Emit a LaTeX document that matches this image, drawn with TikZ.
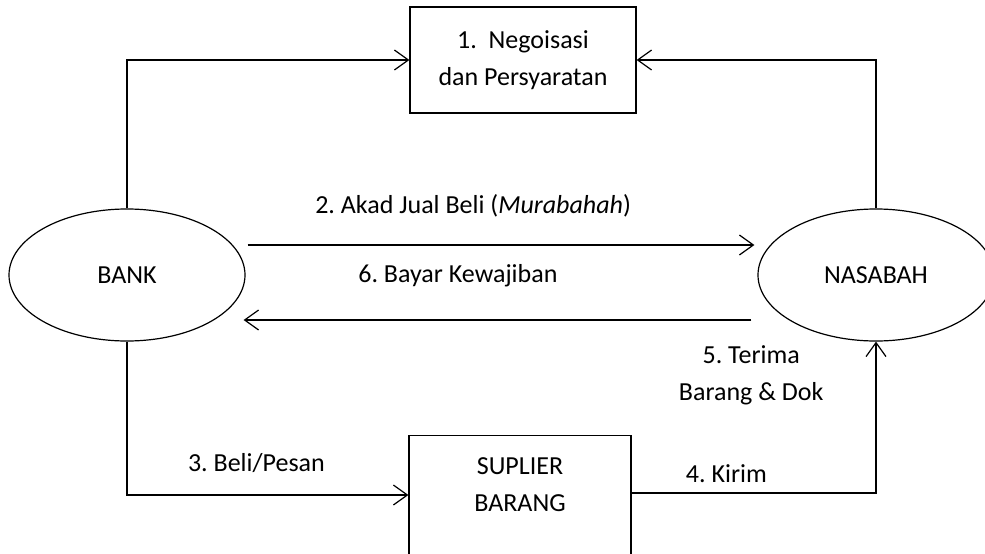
\documentclass[tikz,border=0pt]{standalone}
\usepackage{fontspec}
\setmainfont{Carlito}
\usetikzlibrary{arrows.meta,shapes.geometric,positioning}
\frenchspacing

\begin{document}
\begin{tikzpicture}[x=1pt,y=-1pt,line width=1.2pt,
  >={Straight Barb[length=14pt,width=20pt]},
  font=\fontsize{26}{37}\selectfont,
  party/.style={ellipse,draw,minimum width=236pt,minimum height=132pt,inner sep=0pt},
  proc/.style={rectangle,draw,align=center,minimum width=226pt,minimum height=106pt},
  lbl/.style={inner sep=0pt,align=center}]
  \useasboundingbox (0,0) rectangle (985,554);
  \node[party] (bank) at (127,275) {BANK};
  \node[party] (nasabah) at (876,275) {NASABAH};
  \node[proc] (nego) at (523,60) {1.~ Negoisasi\\dan Persyaratan};
  \node[proc,anchor=north,minimum width=222pt,minimum height=0pt,
    text height=56pt,text depth=80pt,inner ysep=20pt] (suplier) at (520,435) {SUPLIER\\BARANG};
  % alur
  \draw[->] (bank.north) |- (nego.west);
  \draw[->] (nasabah.north) |- (nego.east);
  \draw[->] ([shift={(2,-30)}]bank.east) --
    node[lbl,pos=.445,above=27pt] {2. Akad Jual Beli (\textit{Murabahah})}
    ([shift={(-3,-30)}]nasabah.west);
  \draw[->] ([shift={(-6,45)}]nasabah.west) --
    node[lbl,pos=.578,above=32pt] {6. Bayar Kewajiban}
    ([shift={(-2,45)}]bank.east);
  \draw[->] (bank.south) |-
    node[lbl,pos=.73,above=22pt] {3. Beli/Pesan}
    ([shift={(0,60)}]suplier.north west);
  \draw[->] ([shift={(0,58)}]suplier.north east) -|
    node[lbl,pos=.194,above=10pt] {4. Kirim}
    node[lbl,pos=.89,left=52pt] {5. Terima\\Barang \& Dok}
    (nasabah.south);
\end{tikzpicture}
\end{document}
